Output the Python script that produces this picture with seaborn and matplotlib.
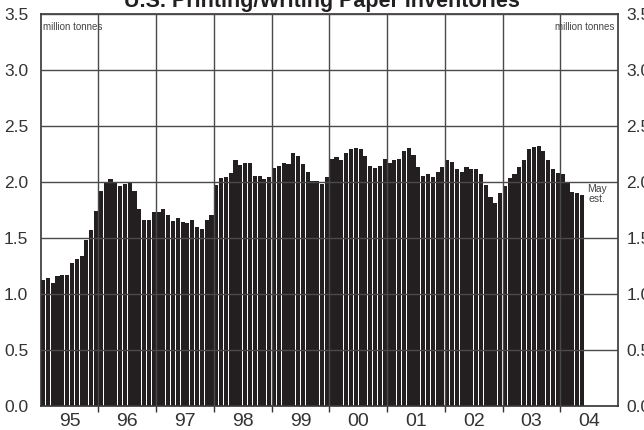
import numpy as np
import pandas as pd
import matplotlib
matplotlib.use("Agg")
import matplotlib.pyplot as plt
import seaborn as sns

# Monthly U.S. printing/writing paper inventories, million tonnes (Jan 1995 - May 2004)
years = ['95', '96', '97', '98', '99', '00', '01', '02', '03', '04']
inv_1995 = [1.12, 1.14, 1.10, 1.16, 1.17, 1.17, 1.27, 1.31, 1.34, 1.48, 1.57, 1.74]
inv_1996 = [1.92, 1.99, 2.02, 2.00, 1.96, 1.98, 1.99, 1.92, 1.76, 1.66, 1.66, 1.73]
inv_1997 = [1.73, 1.76, 1.70, 1.65, 1.68, 1.64, 1.63, 1.66, 1.60, 1.58, 1.66, 1.70]
inv_1998 = [1.97, 2.03, 2.04, 2.08, 2.19, 2.15, 2.17, 2.17, 2.05, 2.05, 2.02, 2.04]
inv_1999 = [2.12, 2.14, 2.17, 2.16, 2.26, 2.23, 2.16, 2.09, 2.01, 2.01, 1.98, 2.04]
inv_2000 = [2.20, 2.22, 2.19, 2.26, 2.29, 2.30, 2.29, 2.23, 2.14, 2.12, 2.14, 2.20]
inv_2001 = [2.17, 2.19, 2.20, 2.27, 2.30, 2.24, 2.13, 2.05, 2.07, 2.04, 2.09, 2.13]
inv_2002 = [2.19, 2.18, 2.11, 2.09, 2.13, 2.11, 2.11, 2.07, 1.97, 1.86, 1.81, 1.90]
inv_2003 = [1.96, 2.03, 2.07, 2.13, 2.19, 2.29, 2.31, 2.32, 2.27, 2.19, 2.11, 2.08]
inv_2004 = [2.07, 2.00, 1.91, 1.90, 1.88]

yearly = [inv_1995, inv_1996, inv_1997, inv_1998, inv_1999,
          inv_2000, inv_2001, inv_2002, inv_2003, inv_2004]
months, values = [], []
for yr, vals in zip(years, yearly):
    for m, v in enumerate(vals):
        months.append(f"{yr}-{m + 1:02d}")
        values.append(v)
df = pd.DataFrame({'month': months, 'inventory': values})

sns.set_style('white')
plt.rcParams['font.family'] = ['Liberation Sans Narrow', 'Liberation Sans', 'DejaVu Sans']

dark = '#231f20'
fig = plt.figure(figsize=(6.44, 4.30), dpi=100)
ax = fig.add_axes([0.0632, 0.0565, 0.8964, 0.9116])

sns.barplot(data=df, x='month', y='inventory', color=dark, saturation=1,
            width=0.86, errorbar=None, linewidth=0, ax=ax)

ax.set_xlim(-0.5, 119.5)
ax.set_ylim(0, 3.5)
yt = np.arange(0, 3.51, 0.5)
ax.set_yticks(yt)
ax.set_yticklabels([f"{t:.1f}" for t in yt], fontsize=12.5, color='#333333')
ax.tick_params(axis='y', length=0, pad=9)

# year labels centred in each 12-month slot, ticks at year boundaries
ax.set_xticks([6 * (2 * i + 1) - 0.5 for i in range(len(years))])
ax.set_xticklabels(years, fontsize=14, color='#333333')
ax.set_xticks([12 * i - 0.5 for i in range(1, len(years))], minor=True)
ax.tick_params(axis='x', which='major', length=0, pad=5)
ax.tick_params(axis='x', which='minor', length=4, width=1, color='#333333', direction='out', bottom=True)
ax.set_xlabel('')
ax.set_ylabel('')

ax.set_axisbelow(False)
ax.yaxis.grid(True, which='major', color='#4a4a4a', linewidth=1)
ax.xaxis.grid(True, which='minor', color='#4a4a4a', linewidth=1)
ax.xaxis.grid(False, which='major')
for sp in ax.spines.values():
    sp.set_visible(True)
    sp.set_color('#333333')
    sp.set_linewidth(1.2)

# right-hand scale, cut by the image edge as in the original
ax2 = ax.twinx()
ax2.set_ylim(0, 3.5)
ax2.set_yticks(yt)
ax2.set_yticklabels([f"{t:.1f}" for t in yt], fontsize=12.5, color='#333333')
ax2.tick_params(axis='y', length=0, pad=6)
for sp in ax2.spines.values():
    sp.set_visible(False)

ax.text(0.004, 0.966, 'million tonnes', transform=ax.transAxes, fontsize=7,
        color='#444444', ha='left', va='center')
ax.text(0.993, 0.966, 'million tonnes', transform=ax.transAxes, fontsize=7,
        color='#444444', ha='right', va='center')
ax.text(115.1, 1.89, 'May\nest.', fontsize=7.5, color='#444444',
        ha='center', va='center', linespacing=1.0)

fig.text(0.5, 1 - 7 / 430, 'U.S. Printing/Writing Paper Inventories',
         ha='center', va='baseline', fontsize=15.5, fontweight='bold',
         color=dark, family=['Liberation Sans', 'DejaVu Sans'])

fig.savefig('out.png', dpi=100)
